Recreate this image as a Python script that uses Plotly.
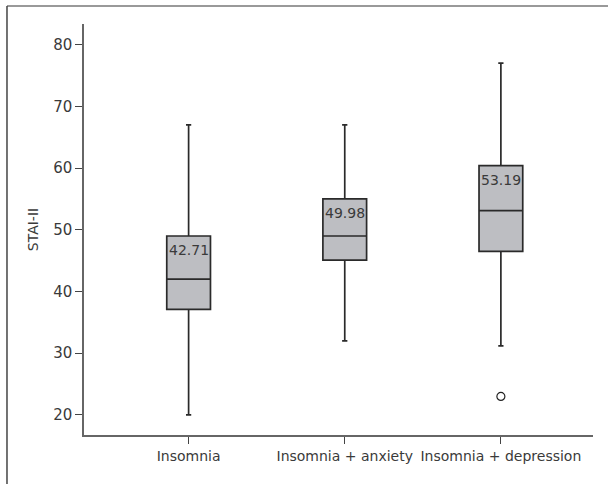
import plotly.graph_objects as go

categories = ["Insomnia", "Insomnia + anxiety", "Insomnia + depression"]
lower_whisker = [20, 32, 31.2]
q1 = [37.1, 45.1, 46.5]
median = [42.0, 49.0, 53.1]
q3 = [49.0, 55.0, 60.4]
upper_whisker = [67, 67, 77]
means = ["42.71", "49.98", "53.19"]
outlier_cat = ["Insomnia + depression"]
outlier_val = [23]
y_ticks = [20, 30, 40, 50, 60, 70, 80]

FONT = "DejaVu Sans"
TXT = "#3a3a3a"
fig = go.Figure()
fig.add_trace(go.Box(
    x=categories, q1=q1, median=median, q3=q3,
    lowerfence=lower_whisker, upperfence=upper_whisker,
    fillcolor="#bdbec2", line=dict(color="#2a2a2a", width=1.7),
    width=0.28, whiskerwidth=0.12, boxpoints=False, showlegend=False,
    hoverinfo="skip",
))
fig.add_trace(go.Scatter(
    x=outlier_cat, y=outlier_val, mode="markers",
    marker=dict(symbol="circle-open", size=8, color="#222", line=dict(width=1.2)),
    showlegend=False, hoverinfo="skip",
))
for c, top, m in zip(categories, q3, means):
    fig.add_annotation(x=c, y=top, text=m, showarrow=False, yanchor="top",
                       yshift=-4, font=dict(family=FONT, size=14, color=TXT))

# outer frame (top and left edges)
fig.add_shape(type="line", xref="paper", yref="paper", x0=-0.1513, x1=1.1, y0=1.0438, y1=1.0438,
              line=dict(color="#777", width=1.5))
fig.add_shape(type="line", xref="paper", yref="paper", x0=-0.1513, x1=-0.1513, y0=1.0438, y1=-0.2,
              line=dict(color="#444", width=1.5))

fig.update_layout(
    width=608, height=484,
    margin=dict(l=84, r=15, t=24, b=49, autoexpand=False),
    paper_bgcolor="white", plot_bgcolor="white",
    font=dict(family=FONT, size=13, color=TXT),
    xaxis=dict(range=[-0.67, 2.59], showline=True, linecolor="#666", linewidth=1.5,
               ticks="outside", ticklen=7, tickcolor="#444", showgrid=False, zeroline=False,
               tickangle=0, automargin=False,
               tickfont=dict(size=14, color=TXT)),
    yaxis=dict(range=[16.75, 83.35], tickvals=y_ticks, showline=True, linecolor="#666",
               linewidth=1.5, ticks="outside", ticklen=7, tickcolor="#444", showgrid=False,
               zeroline=False, automargin=False,
               title=dict(text="STAI-II", font=dict(size=14, color=TXT), standoff=11),
               tickfont=dict(size=15, color=TXT)),
)
fig.write_html("out.html", config={"displayModeBar": False},
               post_script="document.body.style.margin='0';document.body.style.overflow='hidden';")
